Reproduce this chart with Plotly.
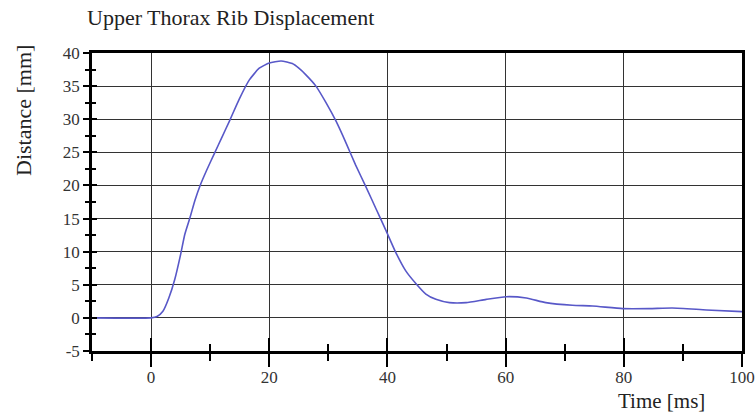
import plotly.graph_objects as go

title_text = "Upper Thorax Rib Displacement"
x_label = "Time [ms]"
y_label = "Distance [mm]"

time_ms = [-10, 0, 1, 2, 3, 4, 5, 5.7, 6.6, 7.4, 8.3, 9.4, 10.8, 12, 13.3, 14.9,
           16.6, 18.3, 20, 22, 23.9, 25, 26.2, 27.9, 29.6, 31.3, 33, 34.6, 36.3, 38,
           39.7, 41.4, 43.1, 44.8, 46.5, 48.2, 50.5, 53.3, 56.7, 60.1, 63.5, 66.8,
           71.3, 74.7, 79.8, 84.3, 88.2, 94, 100]
distance_mm = [0, 0, 0.2, 1.0, 3.0, 5.8, 9.6, 12.6, 15.2, 17.7, 20, 22.3, 25, 27.3,
               29.8, 33, 35.9, 37.7, 38.5, 38.8, 38.4, 37.7, 36.7, 35, 32.5, 29.7, 26.4,
               23.1, 19.9, 16.6, 13.3, 9.9, 7.1, 5.2, 3.6, 2.8, 2.3, 2.3, 2.8, 3.2,
               3.0, 2.3, 1.9, 1.8, 1.4, 1.4, 1.5, 1.2, 0.95]

x_tick_vals = [0, 20, 40, 60, 80, 100]
x_tick_text = ["0", "20", "40", "60", "80", "100"]
y_tick_vals = [-5, 0, 5, 10, 15, 20, 25, 30, 35, 40]
y_tick_text = ["-5", "0", "5", "10", "15", "20", "25", "30", "35", "40"]

x_range = [-10, 100]
y_range = [-5, 40]

serif = "Liberation Serif, Times New Roman, serif"

fig = go.Figure()
fig.add_trace(go.Scatter(x=time_ms, y=distance_mm, mode="lines",
                         line=dict(color="rgb(88,88,200)", width=1.6, shape="spline", smoothing=0.5),
                         showlegend=False, hoverinfo="x+y"))
# empty trace to activate the overlay axes (crossing tick marks)
fig.add_trace(go.Scatter(x=[], y=[], xaxis="x2", yaxis="y2", showlegend=False, hoverinfo="skip"))

fig.update_layout(
    width=756, height=414,
    margin=dict(l=92, r=14, t=53, b=63),
    paper_bgcolor="white", plot_bgcolor="white",
    font=dict(family=serif, color="#333", size=17),
    title=dict(text=title_text, x=87/756, xref="container", xanchor="left",
               y=1-17/414, yref="container", yanchor="middle",
               font=dict(family=serif, size=22, color="#222")),
    xaxis=dict(range=x_range, tickmode="array", tickvals=x_tick_vals, ticktext=x_tick_text,
               showgrid=True, gridcolor="#333", gridwidth=1,
               showline=True, linecolor="black", linewidth=2.5, mirror=True, zeroline=False,
               ticks="outside", ticklen=13, tickwidth=2, tickcolor="black", ticklabelstandoff=-4,
               minor=dict(tick0=0, dtick=10, ticks="outside", ticklen=7, tickwidth=2, tickcolor="black", showgrid=False),
               tickfont=dict(family=serif, size=17, color="#333"), automargin=False),
    yaxis=dict(range=y_range, tickmode="array", tickvals=y_tick_vals, ticktext=y_tick_text,
               showgrid=True, gridcolor="#333", gridwidth=1,
               showline=True, linecolor="black", linewidth=2.5, mirror=True, zeroline=False,
               ticks="outside", ticklen=6, tickwidth=2, tickcolor="black",
               minor=dict(tick0=0, dtick=2.5, ticks="outside", ticklen=4, tickwidth=2, tickcolor="black", showgrid=False),
               tickfont=dict(family=serif, size=17, color="#333"), automargin=False),
    xaxis2=dict(range=x_range, overlaying="x", anchor="y", side="bottom", tick0=0, dtick=20,
                showgrid=False, showline=False, zeroline=False, showticklabels=False,
                ticks="inside", ticklen=13, tickwidth=2, tickcolor="black",
                minor=dict(tick0=0, dtick=10, ticks="inside", ticklen=7, tickwidth=2, tickcolor="black")),
    yaxis2=dict(range=y_range, overlaying="y", anchor="x", side="left", tick0=0, dtick=5,
                showgrid=False, showline=False, zeroline=False, showticklabels=False,
                ticks="inside", ticklen=5, tickwidth=2, tickcolor="black",
                minor=dict(tick0=0, dtick=2.5, ticks="inside", ticklen=4, tickwidth=2, tickcolor="black")),
    annotations=[
        dict(text=y_label, xref="paper", yref="paper", x=(23-92)/650, y=(351-111)/298,
             xanchor="center", yanchor="middle", textangle=-90, showarrow=False,
             font=dict(family=serif, size=22, color="#222")),
        dict(text=x_label, xref="paper", yref="paper", x=(661-92)/650, y=(351-401)/298,
             xanchor="center", yanchor="middle", showarrow=False,
             font=dict(family=serif, size=21, color="#222")),
    ],
)

fig.write_html("out.html", config={"displayModeBar": False},
               post_script="document.body.style.margin='0';document.body.style.overflow='hidden';")
